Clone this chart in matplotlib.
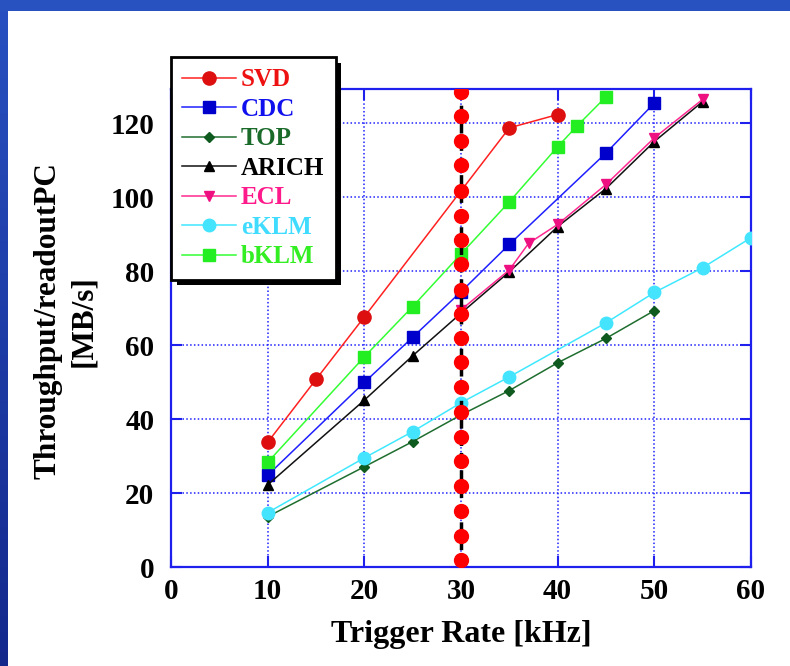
import numpy as np
import matplotlib
matplotlib.use('Agg')
import matplotlib.pyplot as plt
from matplotlib.patches import Rectangle, Shadow

plt.rcParams['font.family'] = 'Liberation Serif'
plt.rcParams['font.weight'] = 'bold'

# throughput per readout PC [MB/s] vs trigger rate [kHz]
rate_svd = [10, 15, 20, 35, 40]
svd = [33.7, 50.7, 67.6, 118.7, 122.3]
rate_cdc = [10, 20, 25, 30, 35, 45, 50]
cdc = [24.8, 49.9, 62.1, 74.4, 87.2, 111.9, 125.4]
rate_top = [10, 20, 25, 30, 35, 40, 45, 50]
top = [13.6, 27.1, 33.9, 41.1, 47.7, 55.2, 61.8, 69.3]
rate_arich = [10, 20, 25, 30, 35, 40, 45, 50, 55]
arich = [22.2, 45.1, 57.1, 68.6, 79.8, 92.0, 102.3, 115.0, 125.8]
rate_ecl = [30, 35, 37, 40, 45, 50, 55]
ecl = [69.5, 80.3, 87.5, 92.6, 103.4, 116.0, 126.4]
rate_eklm = [10, 20, 25, 30, 35, 45, 50, 55, 60]
eklm = [14.7, 29.5, 36.6, 44.4, 51.4, 66.0, 74.2, 80.9, 89.0]
rate_bklm = [10, 20, 25, 30, 35, 40, 42, 45]
bklm = [28.3, 56.8, 70.4, 84.6, 98.7, 113.6, 119.2, 127.1]

# 30 kHz limit line (dots along it)
limit_rate = 30
limit_dots = [128.5, 121.9, 115.2, 108.6, 101.6, 95.0, 88.4, 82.0, 75.0, 68.4,
              62.0, 55.3, 48.6, 41.9, 35.2, 28.6, 21.9, 15.1, 8.4, 1.9]

xticks = [0, 10, 20, 30, 40, 50, 60]
yticks = [0, 20, 40, 60, 80, 100, 120]

W, H = 790, 666
fig = plt.figure(figsize=(7.9, 6.66), dpi=100)
fig.patch.set_facecolor('white')

# blue slide frame: top bar and left gradient strip
fig.add_artist(Rectangle((0, 1 - 11 / H), 1, 11 / H, transform=fig.transFigure,
                         facecolor='#2852c0', edgecolor='none', zorder=-5))
strip = fig.add_axes([0, 0, 8 / W, 1 - 11 / H], zorder=-5)
grad = np.linspace(0, 1, 256).reshape(-1, 1)
strip.imshow(grad, aspect='auto', cmap=matplotlib.colors.LinearSegmentedColormap.from_list(
    'frame', ['#2850c0', '#14288c']))
strip.axis('off')

ax = fig.add_axes([171 / W, 1 - 567 / H, 580 / W, 478 / H])
ax.set_facecolor('none')

series = [
    ('SVD', rate_svd, svd, '#ff2020', '#dd0f0f', 'o', 9.5, '#ee1111'),
    ('CDC', rate_cdc, cdc, '#1f1fff', '#0000cc', 's', 8.5, '#1010ee'),
    ('TOP', rate_top, top, '#1f6e2f', '#0f5a1f', 'D', 5.5, '#1a6a2a'),
    ('ARICH', rate_arich, arich, '#111111', '#000000', '^', 7.5, '#000000'),
    ('ECL', rate_ecl, ecl, '#ff2a90', '#ee1080', 'v', 7.5, '#ff1a8c'),
    ('eKLM', rate_eklm, eklm, '#40e8ff', '#44e4ff', 'o', 9, '#40dcff'),
    ('bKLM', rate_bklm, bklm, '#33ff33', '#22ee22', 's', 8.5, '#33ee22'),
]

handles = []
for name, xs, ys, lc, mc, mk, ms, tc in series:
    h, = ax.plot(xs, ys, color=lc, lw=1.1, marker=mk, markersize=ms,
                 markerfacecolor=mc, markeredgecolor=mc, label=name, zorder=3)
    handles.append(h)

ax.axvline(limit_rate, color='black', lw=2.5, ls=(0, (3, 2)), zorder=4)
ax.plot([limit_rate] * len(limit_dots), limit_dots, ls='none', marker='o',
        markersize=10, color='#ff0000', zorder=5)

ax.set_xlim(0, 60)
ax.set_ylim(0, 129.2)
ax.set_xticks(xticks)
ax.set_yticks(yticks)
ax.grid(True, color='#2020ff', ls=(0, (1, 1.5)), lw=1.1)
for sp in ax.spines.values():
    sp.set_color('#2020ee')
    sp.set_linewidth(1.6)
ax.tick_params(direction='in', length=8, width=1.5, color='#2020ee',
               top=True, right=True, labelsize=21)
ax.tick_params(axis='y', pad=12)
ax.tick_params(axis='x', pad=8)

ax.set_xlabel('Trigger Rate [kHz]', fontsize=23, fontweight='bold')
ax.xaxis.set_label_coords(0.5, -0.11)
ax.set_ylabel('Throughput/readoutPC\n[MB/s]', fontsize=22.5, fontweight='bold',
              linespacing=1.3)
ax.yaxis.set_label_coords(-0.125, 0.515)

leg = fig.legend(handles=handles, loc='upper left',
                 bbox_to_anchor=(171 / W, 1 - 57 / H), bbox_transform=fig.transFigure,
                 fontsize=18, numpoints=1, handlelength=2.15, handletextpad=0.2,
                 labelspacing=0.26, borderpad=0.45, borderaxespad=0,
                 fancybox=False, framealpha=1, edgecolor='black')
leg.get_frame().set_linewidth(2)
leg.set_zorder(10)
for txt, s in zip(leg.get_texts(), series):
    txt.set_color(s[7])

fig.canvas.draw()
shadow = Shadow(leg.legendPatch, 4, -4, facecolor='black', edgecolor='none', alpha=1)
shadow.set_zorder(9)
fig.add_artist(shadow)

plt.savefig('out.png', dpi=100)
